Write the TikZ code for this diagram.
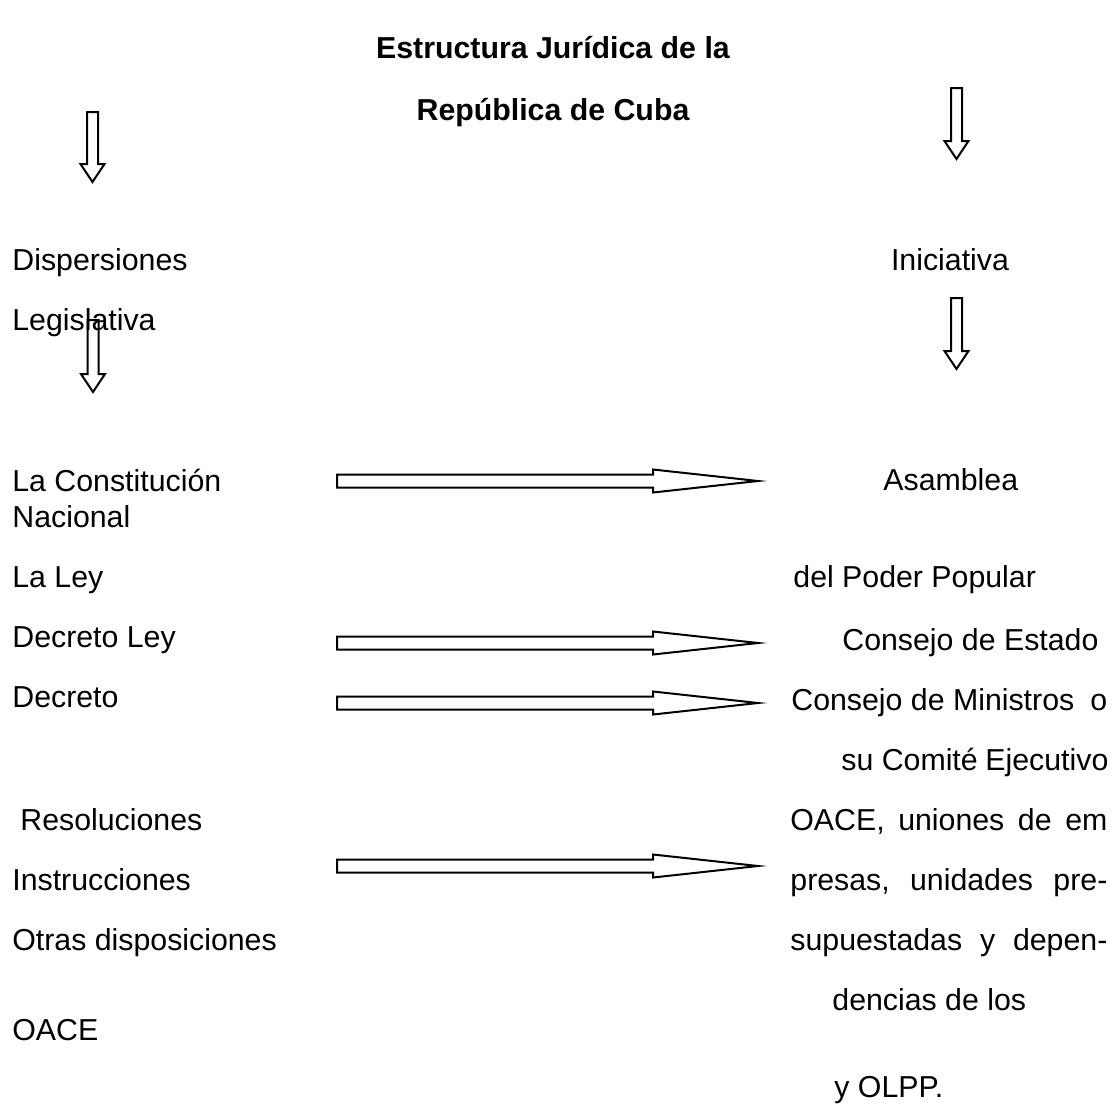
\documentclass[tikz,border=0pt]{standalone}
\usepackage{fontspec}
\setmainfont{Liberation Sans}
\usetikzlibrary{positioning}

\tikzset{
  txt/.style={anchor=base west, inner sep=0pt, font=\fontsize{15.15pt}{18pt}\selectfont},
  ttl/.style={anchor=base, inner sep=0pt, font=\fontsize{15.15pt}{18pt}\selectfont\bfseries},
  blockarrow/.style={draw, fill=white, line width=1pt, line join=miter},
}

% hollow block arrows: down (x, top, head, tip) and right (y centre)
\newcommand{\downblock}[4]{%
  \draw[blockarrow] (#1-5.5,#2) -- (#1+5.5,#2) -- (#1+5.5,#3) -- (#1+12,#3)
    -- (#1,#4) -- (#1-12,#3) -- (#1-5.5,#3) -- cycle;}
\newcommand{\rightblock}[1]{%
  \draw[blockarrow] (337,#1-6.5) -- (653,#1-6.5) -- (653,#1-11.5) -- (758,#1)
    -- (653,#1+11.5) -- (653,#1+6.5) -- (337,#1+6.5) -- cycle;}

\begin{document}
\begin{tikzpicture}[x=0.5pt, y=-0.5pt]
  \useasboundingbox (0,0) rectangle (1112,1120);

  % Title
  \node[ttl] (title1) at (553,58) {Estructura Jurídica de la};
  \node[ttl] (title2) at (553,120) {República de Cuba};

  % Down arrows
  \downblock{92.5}{112}{164}{182}
  \downblock{956.5}{88}{141}{159}
  \downblock{93}{320}{374}{392}
  \downblock{956.5}{298}{351}{369}

  % Left column
  \node[txt] (disp) at (12,270) {Dispersiones};
  \node[txt] (legis) at (12,330) {Legislativa};
  \node[txt] (const) at (12,491) {La Constitución};
  \node[txt] (nac) at (12,527) {Nacional};
  \node[txt] (ley) at (12,587) {La Ley};
  \node[txt] (decley) at (12,647) {Decreto Ley};
  \node[txt] (decr) at (12,707) {Decreto};
  \node[txt] (resol) at (20,830) {Resoluciones};
  \node[txt] (instr) at (12,890) {Instrucciones};
  \node[txt] (otras) at (12,950) {Otras disposiciones};
  \node[txt] (oace) at (12,1040) {OACE};

  % Right column
  \node[txt, anchor=base] (inic) at (950,270) {Iniciativa};
  \node[txt] (asam) at (883,490) {Asamblea};
  \node[txt] (poder) at (793,587) {del Poder Popular};
  \node[txt] (estado) at (842,650) {Consejo de Estado};
  \node[txt] (minis) at (791,710) {\hbox to 158pt{Consejo de Ministros\hfill o}};
  \node[txt] (comite) at (841,770) {\hbox to 133.5pt{su Comité\hfill Ejecutivo}};
  \node[txt] (uniones) at (790,830) {\hbox to 158.5pt{OACE,\hfill uniones\hfill de\hfill em}};
  \node[txt] (presas) at (790,890) {\hbox to 158.5pt{presas,\hfill unidades\hfill pre-}};
  \node[txt] (supu) at (790,950) {\hbox to 158.5pt{supuestadas\hfill y\hfill depen-}};
  \node[txt] (dencias) at (832,1010) {dencias de los};
  \node[txt] (olpp) at (834,1097) {y OLPP.};

  % Right arrows
  \rightblock{481}
  \rightblock{643}
  \rightblock{703}
  \rightblock{866}
\end{tikzpicture}
\end{document}
